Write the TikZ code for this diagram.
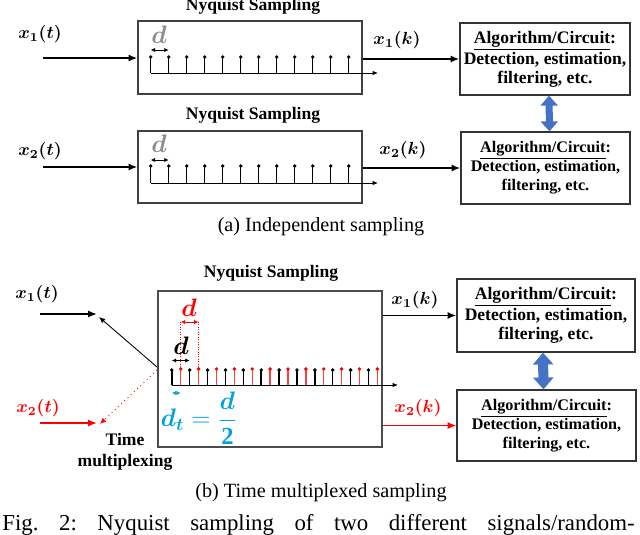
\documentclass[tikz,border=0pt]{standalone}
\usepackage{amsmath}
\usepackage{fontspec}
\setmainfont{Liberation Serif}
\usepackage{xcolor}
\usepackage{tikz}
\usetikzlibrary{arrows.meta,positioning,calc,fit}

\definecolor{dgray}{RGB}{140,140,140}
\definecolor{dtblue}{RGB}{0,160,225}
\definecolor{arrowblue}{RGB}{68,114,196}

\begin{document}
\frenchspacing
\begin{tikzpicture}[x=0.02cm,y=-0.02cm,
  every node/.style={font=\fontsize{10}{11.5}\selectfont\bfseries},
  sampbox/.style={draw=black!75,line width=0.7pt,inner sep=0pt},
  algobig/.style={draw=black!80,line width=0.7pt,align=center,inner sep=0pt,
    font=\fontsize{10}{10.8}\selectfont\bfseries},
  algosmall/.style={draw=black!80,line width=0.7pt,align=center,inner sep=0pt,
    font=\fontsize{9.2}{10.8}\selectfont\bfseries},
  sigline/.style={line width=1.1pt,-{Latex[length=5pt,width=4pt]}},
  thinarrow/.style={line width=0.5pt,-{Latex[length=3.5pt,width=3pt]}},
  axisline/.style={line width=0.5pt,-{Latex[length=3pt,width=2.5pt]}},
  gaparrow/.style={line width=0.5pt,{Latex[length=2.5pt,width=2.5pt]}-{Latex[length=2.5pt,width=2.5pt]}},
  stemline/.style={line width=0.8pt},
  biglabel/.style={font=\fontsize{14}{16}\selectfont},
  captext/.style={font=\fontsize{11.5}{13}\selectfont}]
  \clip (0,0) rectangle (640,535);

  % ---- (a) independent sampling
  \node (titleA1) at (253,6) {Nyquist Sampling};
  \node[sampbox,fit={(138,21) (362,94)}] (sampA1) {};
  \node (xA1) at (40,34) {$\boldsymbol{x_1(t)}$};
  \coordinate (inA1) at (43,58);
  \draw[sigline] (inA1) -- (inA1 -| sampA1.west);
  \foreach \i in {0,...,11}{
    \draw[stemline] (150.7+18*\i,73) -- (150.7+18*\i,57);
    \fill (150.7+18*\i,57) circle[radius=1.1pt];}
  \draw[axisline] (150.7,73) -- (378,73);
  \draw[gaparrow] (150.7,50) -- (168.7,50);
  \node[biglabel,text=dgray] (dA1) at (159,35) {$\boldsymbol{d}$};
  \node[algobig,minimum width=3.4cm,minimum height=1.44cm] (algoA1) at (545,59)
    {\underline{Algorithm/Circuit}:\\Detection, estimation,\\filtering, etc.};
  \draw[sigline] (sampA1.east |- algoA1) -- (algoA1.west);
  \node (xkA1) at (397,40) {$\boldsymbol{x_1(k)}$};

  \node (titleA2) at (253,115) {Nyquist Sampling};
  \node[sampbox,fit={(138,131) (362,203)}] (sampA2) {};
  \node (xA2) at (40,151) {$\boldsymbol{x_2(t)}$};
  \coordinate (inA2) at (43,167);
  \draw[sigline] (inA2) -- (inA2 -| sampA2.west);
  \foreach \i in {0,...,11}{
    \draw[stemline] (150.7+18*\i,183) -- (150.7+18*\i,166);
    \fill (150.7+18*\i,166) circle[radius=1.1pt];}
  \draw[axisline] (150.7,183) -- (378,183);
  \draw[gaparrow] (150.7,160) -- (168.7,160);
  \node[biglabel,text=dgray] (dA2) at (159,144) {$\boldsymbol{d}$};
  \node[algosmall,minimum width=3.38cm,minimum height=1.44cm] (algoA2) at (545.5,168)
    {\underline{Algorithm/Circuit}:\\Detection, estimation,\\filtering, etc.};
  \draw[sigline] (sampA2.east |- algoA2) -- (algoA2.west);
  \node (xkA2) at (403,150) {$\boldsymbol{x_2(k)}$};

  \draw[line width=4pt,arrowblue,{Triangle[length=5.7pt,width=9.6pt]}-{Triangle[length=5.7pt,width=9.6pt]}]
    ($(algoA1.south)+(4,0)$) -- ($(algoA2.north)+(4,0)$);

  \node[captext] (capA) at (321,227) {(a) Independent sampling};

  % ---- (b) time multiplexed sampling
  \node (titleB) at (271,273) {Nyquist Sampling};
  \node[sampbox,draw=black!70,line width=0.9pt,fit={(158,291) (382,447)}] (sampB) {};
  \node (xB1) at (37,294) {$\boldsymbol{x_1(t)}$};
  \node[text=red] (xB2) at (38,408) {$\boldsymbol{x_2(t)}$};
  \coordinate (inB1) at (40,314); \coordinate (muxB1) at (97,314);
  \coordinate (inB2) at (40,423); \coordinate (muxB2) at (97,423);
  \draw[sigline] (inB1) -- (muxB1);
  \draw[sigline,red] (inB2) -- (muxB2);
  \coordinate (tapB1) at (157,367); \coordinate (tipB1) at (99,317);
  \coordinate (tapB2) at (157,370); \coordinate (tipB2) at (100,424);
  \draw[thinarrow] (tapB1) -- (tipB1);
  \draw[thinarrow,red,dotted] (tapB2) -- (tipB2);
  \node[align=center,font=\fontsize{10}{12}\selectfont\bfseries] (muxlbl) at (125,452) {Time\\multiplexing};

  \foreach \i in {0,2,...,22}{
    \draw[stemline] (171.8+8.94*\i,385) -- (171.8+8.94*\i,370);
    \fill (171.8+8.94*\i,370) circle[radius=1.1pt];}
  \foreach \i in {1,3,...,23}{
    \draw[stemline,red!75] (171.8+8.94*\i,385) -- (171.8+8.94*\i,369);
    \fill[red] (171.8+8.94*\i,369) circle[radius=1.1pt];}
  \draw[axisline] (171.8,385) -- (398,385);
  % spacing marks
  \draw[gaparrow,red] (180.74,322) -- (198.62,322);
  \draw[red,densely dotted,line width=0.4pt] (180.74,322) -- (180.74,368) (198.62,322) -- (198.62,368);
  \node[biglabel,text=red] (dB2) at (189,308) {$\boldsymbol{d}$};
  \draw[gaparrow] (171.8,360.5) -- (189.7,360.5);
  \node[biglabel] (dB1) at (181,346) {$\boldsymbol{d}$};
  \draw[gaparrow,dtblue] (171.8,393) -- (180.74,393);
  \node[biglabel,text=dtblue] (dtB) at (199,418) {$\boldsymbol{d_t}=\dfrac{\boldsymbol{d}}{\mathbf{2}}$};

  \node[algobig,minimum width=3.56cm,minimum height=1.46cm] (algoB1) at (546,315.5)
    {\underline{Algorithm/Circuit}:\\Detection, estimation,\\filtering, etc.};
  \node[algosmall,minimum width=3.58cm,minimum height=1.42cm] (algoB2) at (546.5,425.5)
    {\underline{Algorithm/Circuit}:\\Detection, estimation,\\filtering, etc.};
  \draw[sigline] (sampB.east |- algoB1) -- (algoB1.west);
  \draw[sigline,red] (sampB.east |- algoB2) -- (algoB2.west);
  \node (xkB1) at (415,300) {$\boldsymbol{x_1(k)}$};
  \node[text=red] (xkB2) at (418,408) {$\boldsymbol{x_2(k)}$};
  \draw[line width=5.7pt,arrowblue,{Triangle[length=6.8pt,width=11.3pt]}-{Triangle[length=6.8pt,width=11.3pt]}]
    ($(algoB1.south)+(-3,0)$) -- ($(algoB2.north)+(-3,0)$);

  \node[captext] (capB) at (321,493) {(b) Time multiplexed sampling};
  \node[captext,font=\fontsize{13}{15}\selectfont,anchor=base west,inner sep=0pt] (figcap) at (2,530)
    {\makebox[12.65cm][s]{Fig. 2: Nyquist sampling of two different signals/random-}};
\end{tikzpicture}
\end{document}
